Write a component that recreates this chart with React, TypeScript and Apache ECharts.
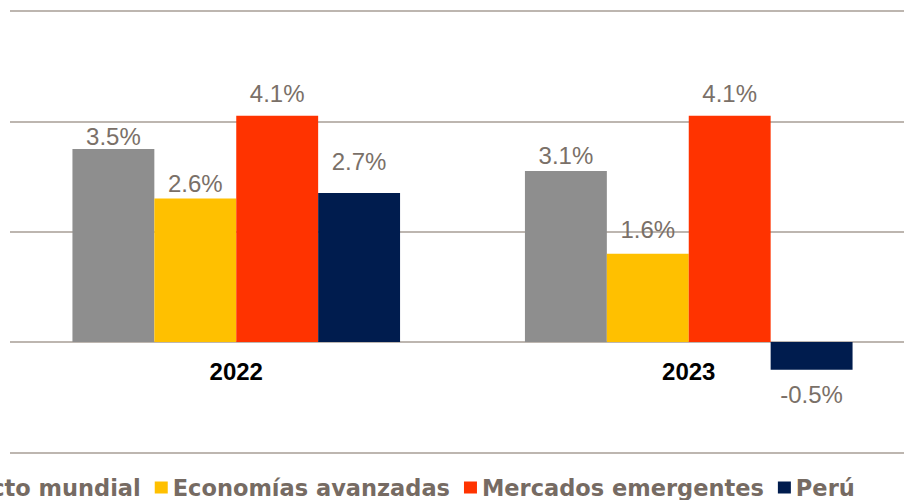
import React, { useEffect, useRef } from "react";
import * as echarts from "echarts";

const categories = ["2022", "2023"];
const seriesNames = ["Producto mundial", "Economías avanzadas", "Mercados emergentes", "Perú"];
const productoMundial = [3.5, 3.1];
const economiasAvanzadas = [2.6, 1.6];
const mercadosEmergentes = [4.1, 4.1];
const peru = [2.7, -0.5];
const seriesColors = ["#8E8E8E", "#FFC000", "#FF3300", "#001C4E"];
const yMin = -2;
const yMax = 6;
const yInterval = 2;
// label offsets from the bar ends (layout only), per series then per category
const labelDistances = [
  [0, 4],
  [3, 12],
  [10, 10],
  [20, 13],
];

export default function App() {
  const ref = useRef<HTMLDivElement>(null);
  useEffect(() => {
    if (!ref.current) return;
    const chart = echarts.init(ref.current, null, { renderer: "svg" });
    const values = [productoMundial, economiasAvanzadas, mercadosEmergentes, peru];
    const labelColor = "#7A7068";
    const series = values.map((vals, i) => ({
      name: seriesNames[i],
      type: "bar",
      barGap: "0%",
      barCategoryGap: "27.6%",
      itemStyle: { color: seriesColors[i] },
      data: vals.map((v, j) => ({
        value: v,
        label: {
          show: true,
          position: v < 0 ? "bottom" : "top",
          distance: labelDistances[i][j],
          formatter: (p: any) => `${Number(p.value).toFixed(1)}%`,
          color: labelColor,
          fontSize: 24,
          fontFamily: "'Liberation Sans', Arial, sans-serif",
        },
      })),
    }));
    chart.setOption({
      animation: false,
      backgroundColor: "#ffffff",
      grid: {
        left: 10,
        width: 905,
        top: 11,
        bottom: 47.6,
        containLabel: false,
        outerBoundsMode: "none",
      },
      legend: {
        show: true,
        left: -102,
        top: 476,
        padding: 0,
        orient: "horizontal",
        itemWidth: 13,
        itemHeight: 12,
        itemGap: 14,
        icon: "rect",
        data: seriesNames,
        textStyle: {
          color: "#766B63",
          fontSize: 22.5,
          lineHeight: 20,
          fontWeight: "bold",
          fontFamily: "'DejaVu Sans', sans-serif",
        },
      },
      xAxis: {
        type: "category",
        data: categories,
        axisTick: { show: false },
        axisLine: { show: false, onZero: false },
        axisLabel: {
          color: "#000000",
          fontSize: 24,
          fontWeight: "bold",
          fontFamily: "'Liberation Sans', Arial, sans-serif",
          margin: -93,
        },
      },
      yAxis: {
        type: "value",
        min: yMin,
        max: yMax,
        interval: yInterval,
        axisLabel: { show: false },
        axisLine: { show: false },
        axisTick: { show: false },
        splitLine: { show: true, lineStyle: { color: "#BDB6B0", width: 2 } },
      },
      series,
    });
    return () => chart.dispose();
  }, []);
  return (
    <div
      ref={ref}
      style={{ position: "fixed", left: 0, top: 0, width: 904, height: 500, background: "#fff" }}
    />
  );
}
